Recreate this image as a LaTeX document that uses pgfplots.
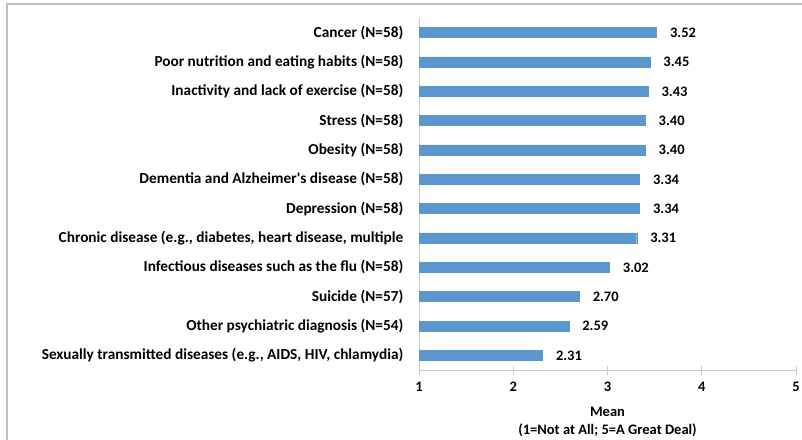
\documentclass[border=0pt]{standalone}
\usepackage{pgfplots}
\pgfplotsset{compat=1.18}
\usepackage{fontspec}
\setmainfont{Carlito}
\definecolor{barblue}{HTML}{5B96CC}
\definecolor{axgray}{HTML}{C8C8C8}
\definecolor{framegray}{HTML}{BEBEBE}
\begin{document}
\begin{tikzpicture}[x=1pt,y=1pt]
\useasboundingbox (0,0) rectangle (802,439);
\begin{axis}[
  at={(419pt,69pt)}, anchor=south west,
  scale only axis, width=377pt, height=352pt,
  xbar, bar width=10pt,
  xmin=1, xmax=5, ymin=-0.5, ymax=11.5,
  xtick={1,2,3,4,5},
  ytick={0,...,11},
  yticklabels={
    {Sexually transmitted diseases (e.g., AIDS, HIV, chlamydia)},
    {Other psychiatric diagnosis (N=54)},
    {Suicide (N=57)},
    {Infectious diseases such as the flu (N=58)},
    {Chronic disease (e.g., diabetes, heart disease, multiple},
    {Depression (N=58)},
    {Dementia and Alzheimer\textquotesingle s disease (N=58)},
    {Obesity (N=58)},
    {Stress (N=58)},
    {Inactivity and lack of exercise (N=58)},
    {Poor nutrition and eating habits (N=58)},
    {Cancer (N=58)}},
  /pgf/number format/assume math mode=true,
  tick label style={font=\fontsize{14.5}{17}\selectfont\bfseries, text=black},
  yticklabel style={font=\fontsize{15.3}{17}\selectfont\bfseries, inner xsep=0pt, xshift=-11pt},
  xticklabel style={yshift=-4pt},
  xlabel={Mean\\(1=Not at All; 5=A Great Deal)},
  xlabel style={font=\fontsize{14.5}{18}\selectfont\bfseries, align=center, yshift=-9pt},
  axis x line*=bottom, axis y line*=left,
  x axis line style={axgray, line width=1pt, -},
  y axis line style={axgray, line width=1pt, -},
  ytick style={draw=none},
  xtick style={axgray, line width=1pt},
  tick align=center, major tick length=9pt,
  nodes near coords,
  nodes near coords style={anchor=west, xshift=10pt, font=\fontsize{14.5}{17}\selectfont\bfseries, text=black,
    /pgf/number format/.cd, fixed, fixed zerofill, precision=2, assume math mode=true},
]
\addplot[fill=barblue, draw=barblue] coordinates {
  (2.31,0) (2.59,1) (2.70,2) (3.02,3) (3.31,4) (3.34,5)
  (3.34,6) (3.40,7) (3.40,8) (3.43,9) (3.45,10) (3.52,11)};
\end{axis}
\draw[framegray, line width=1.5pt] (7,-10) -- (7,435) -- (812,435);
\end{tikzpicture}
\end{document}
